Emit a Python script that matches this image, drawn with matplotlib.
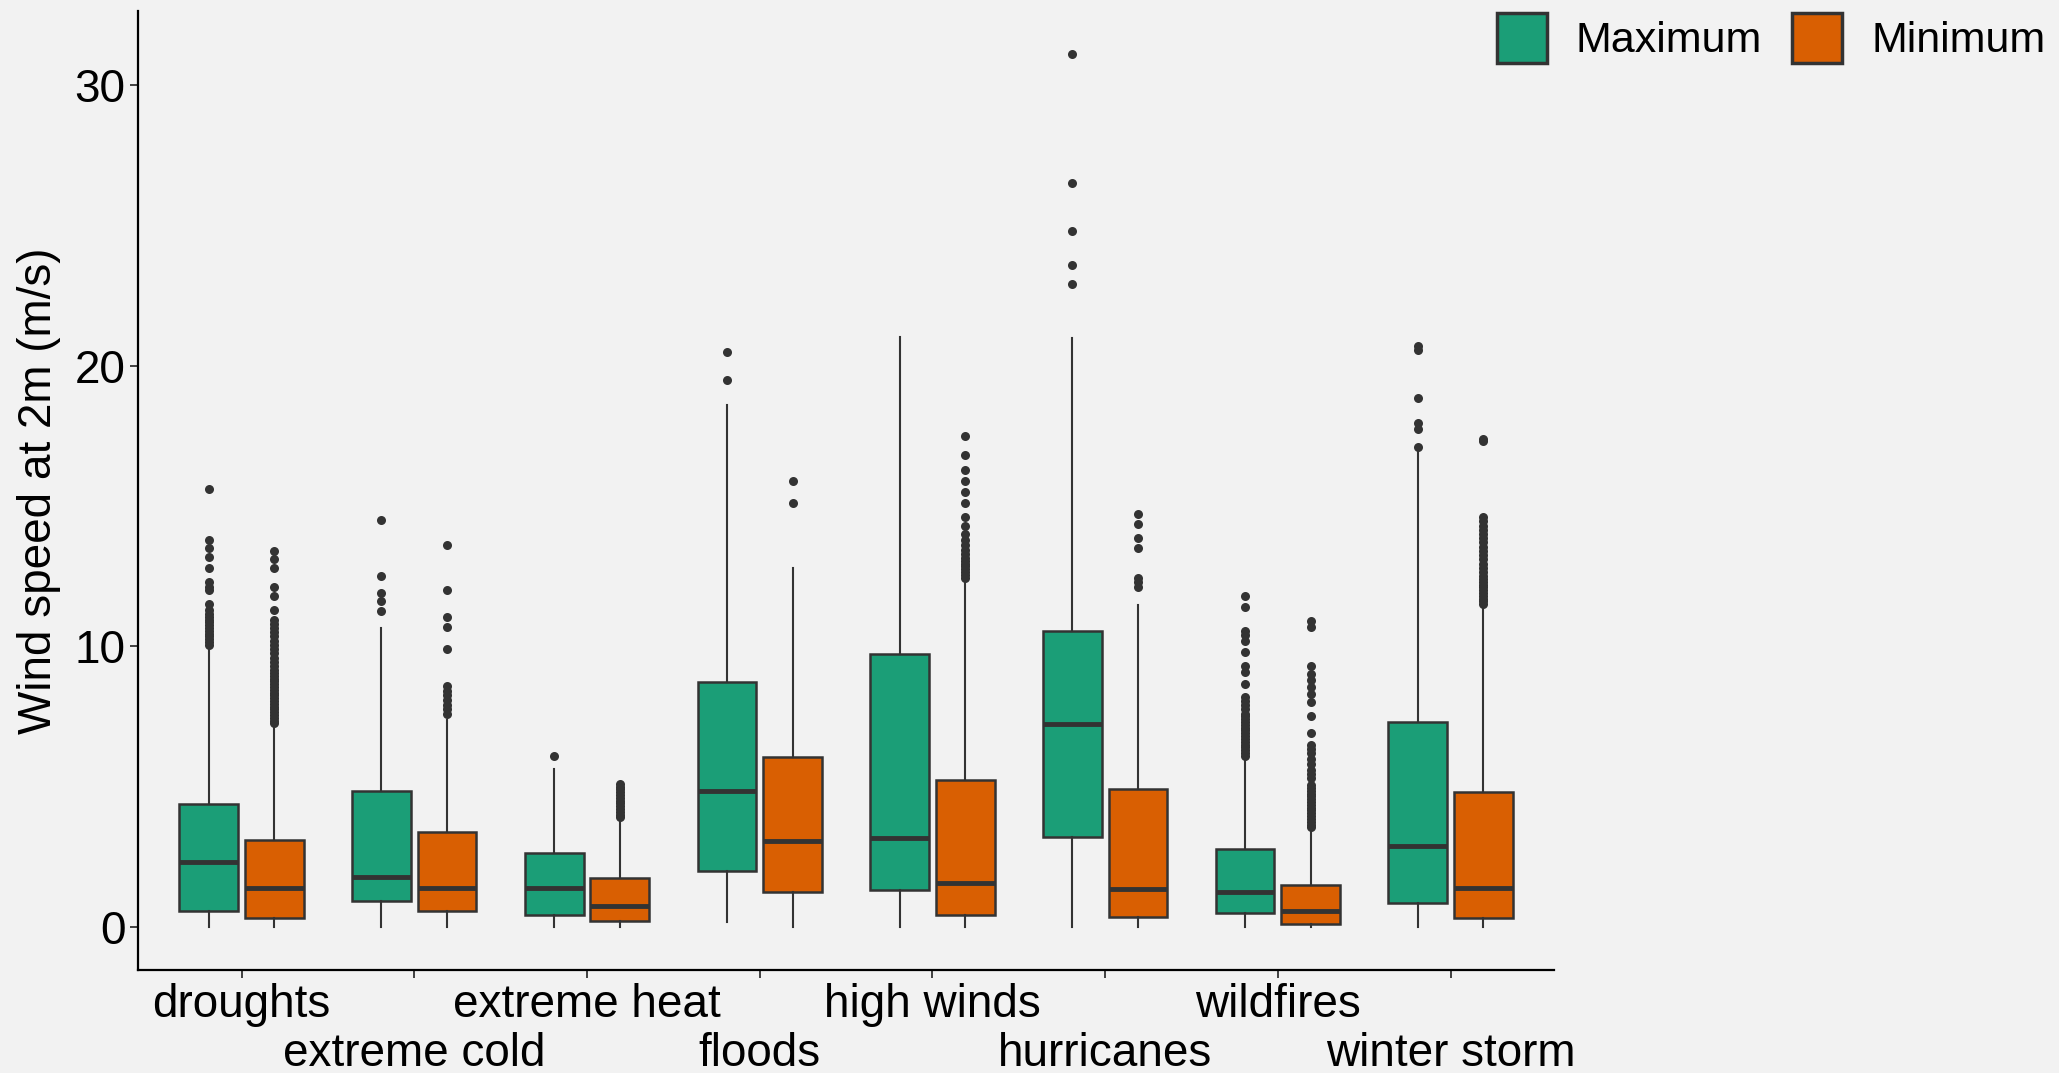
import matplotlib
matplotlib.use("Agg")
import matplotlib.pyplot as plt
from matplotlib.patches import Patch

plt.rcParams['font.family'] = ['Liberation Sans', 'DejaVu Sans']

# valeurs
events = ["droughts", "extreme cold", "extreme heat", "floods",
          "high winds", "hurricanes", "wildfires", "winter storm"]

max_q1 = [0.58, 0.91, 0.42, 2.00, 1.31, 3.20, 0.50, 0.86]
max_med = [2.33, 1.77, 1.38, 4.83, 3.17, 7.24, 1.24, 2.90]
max_q3 = [4.37, 4.83, 2.65, 8.74, 9.71, 10.56, 2.78, 7.30]
max_lo = [0.0, 0.0, 0.0, 0.16, 0.0, 0.0, 0.0, 0.0]
max_hi = [9.97, 10.67, 5.64, 18.61, 21.02, 21.0, 6.03, 16.95]
max_out = [
    [10.05, 10.15, 10.25, 10.35, 10.45, 10.55, 10.65, 10.75, 10.85, 10.95,
     11.05, 11.15, 11.3, 11.5, 12.0, 12.1, 12.3, 12.8, 13.2, 13.5, 13.8, 15.6],
    [11.25, 11.6, 11.9, 12.5, 14.5],
    [6.1],
    [19.5, 20.5],
    [],
    [22.9, 23.6, 24.8, 26.5, 31.1],
    [6.1, 6.2, 6.3, 6.4, 6.5, 6.6, 6.7, 6.8, 6.9, 7.0, 7.1, 7.2, 7.3, 7.4,
     7.5, 7.6, 7.75, 7.9, 8.05, 8.2, 8.65, 9.1, 9.3, 9.8, 10.2, 10.4, 10.55,
     11.4, 11.8],
    [17.1, 17.75, 17.95, 18.85, 20.55, 20.7],
]

min_q1 = [0.32, 0.55, 0.21, 1.25, 0.42, 0.37, 0.11, 0.33]
min_med = [1.38, 1.38, 0.74, 3.07, 1.57, 1.35, 0.57, 1.38]
min_q3 = [3.09, 3.37, 1.73, 6.07, 5.24, 4.92, 1.50, 4.80]
min_lo = [0.0, 0.0, 0.0, 0.0, 0.0, 0.0, 0.0, 0.0]
min_hi = [7.17, 7.39, 3.85, 12.78, 12.39, 11.47, 3.46, 11.41]
min_out = [
    [7.25, 7.35, 7.45, 7.55, 7.65, 7.75, 7.85, 7.95, 8.05, 8.15, 8.25, 8.35,
     8.45, 8.55, 8.65, 8.75, 8.85, 8.95, 9.05, 9.15, 9.3, 9.45, 9.6, 9.75,
     9.9, 10.05, 10.2, 10.35, 10.5, 10.65, 10.8, 10.95, 11.3, 11.8, 12.1,
     12.8, 13.1, 13.4],
    [7.6, 7.75, 7.9, 8.1, 8.25, 8.4, 8.6, 9.9, 10.7, 11.05, 12.0, 13.6],
    [3.9, 4.0, 4.1, 4.2, 4.3, 4.4, 4.5, 4.6, 4.7, 4.8, 4.9, 5.0, 5.1],
    [15.1, 15.9],
    [12.45, 12.55, 12.65, 12.75, 12.85, 12.95, 13.05, 13.15, 13.3, 13.45,
     13.6, 13.8, 14.0, 14.3, 14.6, 15.1, 15.5, 15.9, 16.3, 16.8, 17.5],
    [12.1, 12.3, 12.45, 13.5, 13.85, 14.35, 14.7],
    [3.55, 3.65, 3.75, 3.85, 3.95, 4.05, 4.15, 4.25, 4.35, 4.45, 4.55, 4.65,
     4.75, 4.85, 4.95, 5.05, 5.3, 5.45, 5.6, 5.8, 6.0, 6.2, 6.35, 6.5, 6.9,
     7.5, 8.0, 8.3, 8.55, 8.8, 9.0, 9.3, 10.7, 10.9],
    [11.5, 11.6, 11.7, 11.8, 11.9, 12.0, 12.1, 12.2, 12.3, 12.4, 12.5, 12.65,
     12.8, 12.95, 13.1, 13.25, 13.4, 13.55, 13.7, 13.85, 14.0, 14.15, 14.3,
     14.45, 14.6, 17.3, 17.4],
]

col_max = "#1B9E77"
col_min = "#D95F02"
grey = "#333333"
bg = "#F2F2F2"


def make_stats(q1, med, q3, lo, hi, out):
    res = []
    for i in range(len(q1)):
        res.append({"q1": q1[i], "med": med[i], "q3": q3[i],
                    "whislo": lo[i], "whishi": hi[i], "fliers": out[i]})
    return res


fig = plt.figure(figsize=(20.59, 10.73), dpi=100, facecolor=bg)
ax = fig.add_axes([0.067, 0.0956, 0.6878, 0.8944], facecolor=bg)

pos = list(range(1, len(events) + 1))
off = 0.19
w = 0.34
for stats, col, dx in [(make_stats(max_q1, max_med, max_q3, max_lo, max_hi, max_out), col_max, -off),
                       (make_stats(min_q1, min_med, min_q3, min_lo, min_hi, min_out), col_min, off)]:
    ax.bxp(stats, positions=[p + dx for p in pos], widths=w, patch_artist=True,
           showcaps=False,
           boxprops=dict(facecolor=col, edgecolor=grey, linewidth=1.8),
           medianprops=dict(color=grey, linewidth=3.5),
           whiskerprops=dict(color=grey, linewidth=1.5),
           flierprops=dict(marker='o', markerfacecolor=grey, markeredgecolor='none',
                           markersize=6.5))

ax.set_xlim(0.4, 8.6)
ax.set_ylim(-1.55, 32.65)
ax.set_yticks([0, 10, 20, 30])
# etiquettes sur deux rangees : majeures = 1re rangee, mineures = 2e rangee
ax.set_xticks(pos[0::2])
ax.set_xticklabels(events[0::2])
ax.set_xticks(pos[1::2], minor=True)
ax.set_xticklabels(events[1::2], minor=True)
ax.tick_params(axis='both', which='both', labelsize=33, length=6, width=1.3,
               color=grey, pad=3, labelcolor='black')
ax.tick_params(axis='x', which='minor', pad=38)
ax.set_ylabel("Wind speed at 2m (m/s)", fontsize=33, labelpad=10)
for s in ['top', 'right']:
    ax.spines[s].set_visible(False)
for s in ['left', 'bottom']:
    ax.spines[s].set_linewidth(1.6)
    ax.spines[s].set_color('black')

handles = [Patch(facecolor=col_max, edgecolor=grey, linewidth=2.5, label="Maximum"),
           Patch(facecolor=col_min, edgecolor=grey, linewidth=2.5, label="Minimum")]
fig.legend(handles=handles, loc='upper right', bbox_to_anchor=(1.006, 1.012), ncol=2,
           frameon=False, fontsize=31, handlelength=1.16, handleheight=1.41,
           handletextpad=0.67, columnspacing=0.7, borderaxespad=0.2)

fig.savefig("out.png", dpi=100, facecolor=bg)
